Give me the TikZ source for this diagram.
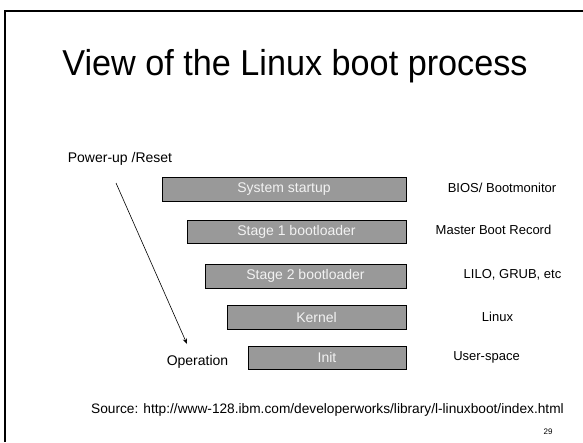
\documentclass[tikz,border=0pt]{standalone}
\usepackage{fontspec}
\setmainfont{Liberation Sans}
\newfontfamily\titlefont[FakeStretch=0.95]{Liberation Sans}
\usetikzlibrary{arrows.meta}
\begin{document}
\begin{tikzpicture}[>=Stealth, x=1pt, y=-1pt,
    stage/.style={draw=black, line width=1pt, fill=black!40, text=black!5, inner sep=0pt, font=\fontsize{14}{16}\selectfont},
    note/.style={font=\fontsize{13}{15}\selectfont}]
    \useasboundingbox (0,0) rectangle (583,442);
    \draw[line width=2pt] (5,442)--(5,11)--(583,11);
    \node[anchor=base, font=\titlefont\fontsize{36}{40}\selectfont] (title) at (295,75) {View of the Linux boot process};
    \node[stage, minimum width=244pt, minimum height=24pt] (sys) at (284,189) {System startup};
    \node[stage, minimum width=219pt, minimum height=23pt] (st1) at (296.5,231.5) {Stage 1 bootloader};
    \node[stage, minimum width=201pt, minimum height=24pt] (st2) at (305.5,276) {Stage 2 bootloader};
    \node[stage, minimum width=179pt, minimum height=24pt] (kern) at (316.5,317) {Kernel};
    \node[stage, minimum width=158pt, minimum height=23pt] (init) at (327,357.5) {Init};
    \node[note] (bios) at (502,188) {BIOS/ Bootmonitor};
    \node[note] (mbr) at (493.5,230) {Master Boot Record};
    \node[note] (lilo) at (512.5,275) {LILO, GRUB, etc};
    \node[note] (linux) at (497.5,317) {Linux};
    \node[note] (user) at (486.5,357) {User-space};
    \node[note, font=\fontsize{14}{16}\selectfont] (power) at (120,159) {Power-up /Reset};
    \node[note, font=\fontsize{14}{16}\selectfont] (oper) at (197.5,362) {Operation};
    \coordinate (start) at (116,183);
    \coordinate (stop) at (187,344);
    \draw[->, line width=0.6pt] (start)--(stop);
    \node[note, font=\fontsize{13.7}{15}\selectfont] (src) at (327.5,410) {Source: http://www-128.ibm.com/developerworks/library/l-linuxboot/index.html};
    \node[font=\fontsize{8}{9}\selectfont] (page) at (548,432) {29};
\end{tikzpicture}
\end{document}
